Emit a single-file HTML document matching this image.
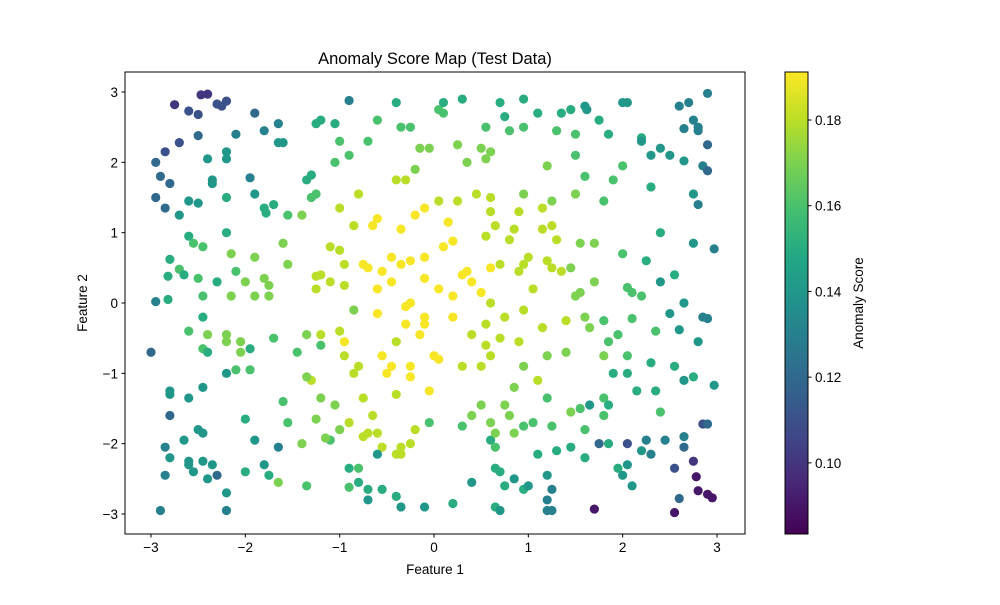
<!DOCTYPE html>
<html><head><meta charset="utf-8"><style>
body{margin:0;background:#fff;}
svg text{font-family:"Liberation Sans","DejaVu Sans",sans-serif;fill:#000;}
</style></head><body>
<svg id="chart" width="1000" height="600" xmlns="http://www.w3.org/2000/svg">
<rect width="1000" height="600" fill="#fff"/>
<text x="435" y="64" font-size="16.5" text-anchor="middle">Anomaly Score Map (Test Data)</text>
<g id="points"></g>
<rect x="125" y="72" width="620" height="462" fill="none" stroke="#000" stroke-width="1"/>
<g id="xticks"></g>
<g id="yticks"></g>
<text x="435" y="574" font-size="13.5" text-anchor="middle">Feature 1</text>
<text x="87" y="303" font-size="13.5" text-anchor="middle" transform="rotate(-90 87 303)">Feature 2</text>
<defs><linearGradient id="vir" x1="0" y1="1" x2="0" y2="0"></linearGradient></defs>
<rect x="785" y="72" width="23" height="462" fill="url(#vir)" stroke="#000" stroke-width="1"/>
<g id="cticks"></g>
<text x="863" y="303" font-size="13.5" text-anchor="middle" transform="rotate(-90 863 303)">Anomaly Score</text>
</svg>
<script>
const xTicks=[-3,-2,-1,0,1,2,3];
const yTicks=[-3,-2,-1,0,1,2,3];
const cTicks=[0.10,0.12,0.14,0.16,0.18];
const vMin=0.0834, vMax=0.1912;
const featX=[-2.47,-2.4,-2.75,-2.2,-2.3,-2.25,-2.6,-2.5,-1.9,-2.5,-2.1,-2.7,-2.85,-2.95,-2.9,-2.8,-2.95,-2.85,-2.4,-2.2,-2.2,-2.35,-2.35,-1.95,-1.8,-1.65,-1.65,-1.6,-1.9,-1.8,-1.78,-1.7,-2.6,-2.5,-2.7,-2.2,-2.2,-2.6,-2.45,-2.55,-2.8,-2.82,-2.7,-2.65,-2.82,-2.95,-3.0,-2.45,-2.15,-2.15,-1.9,-1.9,-1.8,-1.75,-1.75,-1.55,-1.6,-1.55,-1.4,-1.3,-1.25,-1.35,-1.3,-1.2,-1.25,-1.05,-0.9,-1.0,-1.05,-0.9,-0.7,-0.6,-0.4,-0.35,-0.25,-0.15,-0.05,-0.2,-0.4,-0.3,0.05,0.1,0.1,0.3,0.25,0.35,0.5,0.55,0.6,0.7,0.75,0.55,0.95,0.95,1.1,0.8,1.3,1.35,1.45,1.5,1.6,1.62,1.75,1.85,2.0,2.05,2.2,2.4,2.6,2.7,2.75,2.8,2.8,2.65,2.9,2.9,2.65,2.85,2.9,2.8,2.75,2.5,2.3,2.2,2.3,2.0,1.9,1.8,1.5,1.6,1.5,1.2,1.15,1.25,0.95,0.9,0.85,1.15,1.25,1.3,1.0,1.2,1.25,1.35,1.55,1.7,2.0,2.4,2.25,2.55,2.4,2.75,2.97,2.65,2.5,2.85,2.9,2.6,2.1,2.05,2.2,2.1,1.8,1.95,1.85,1.6,1.5,1.55,1.7,1.45,1.05,0.8,0.65,0.55,0.45,0.6,0.6,0.25,0.05,-0.1,-0.2,-0.35,-0.6,-0.65,-0.8,-1.0,-0.85,-1.1,-1.0,-0.95,-1.1,-1.2,-1.25,-1.25,-0.95,-0.75,-0.7,-0.55,-0.45,-0.35,-0.25,-0.1,0.1,0.15,0.2,0.3,0.35,0.4,0.05,-0.1,-0.45,-0.6,-0.6,-0.3,-0.25,-0.1,-0.3,0.0,0.05,0.2,0.2,0.5,0.6,0.55,0.4,0.55,0.7,0.6,0.3,0.9,1.15,1.2,1.4,0.95,1.1,0.85,0.75,0.5,0.4,0.6,0.8,0.85,0.95,1.05,1.25,1.2,1.45,1.55,1.6,1.8,1.85,1.9,2.05,2.05,2.3,2.15,2.35,2.75,2.65,2.8,2.97,1.75,1.85,1.6,1.95,2.05,2.0,2.1,2.05,2.2,2.3,2.25,2.45,2.65,2.65,2.55,2.75,2.85,2.9,2.6,2.55,2.78,2.8,2.9,2.95,1.7,1.25,1.2,1.2,1.25,1.2,0.95,1.0,0.85,0.7,0.65,0.75,0.65,0.7,0.4,0.2,0.6,0.65,0.3,0.65,-0.05,-0.2,-0.25,-0.35,-0.4,-0.35,-0.55,-0.6,-0.7,-0.75,-0.65,-0.9,-0.75,-0.4,-0.05,-0.5,-0.25,-0.45,-0.25,-0.55,-0.95,-0.95,-0.8,-0.85,-1.0,-1.2,-1.3,-1.35,-1.2,-1.05,-1.0,-1.25,-1.1,-1.15,-1.4,-1.55,-1.35,-0.9,-0.8,-0.9,-0.8,-0.7,-0.55,-0.4,-0.35,-0.1,-0.7,-0.6,-1.65,-1.65,-1.75,-1.8,-1.9,-2.0,-2.0,-2.2,-2.2,-2.3,-2.35,-2.4,-2.45,-2.6,-2.6,-2.55,-2.65,-2.45,-2.5,-2.8,-2.85,-2.85,-2.9,-2.8,-2.8,-2.8,-2.6,-2.45,-2.2,-2.1,-1.95,-1.95,-1.7,-1.6,-1.45,-1.2,-1.35,-2.05,-2.05,-2.2,-2.2,-2.4,-2.45,-2.4,-2.45,-2.6,-2.3,-2.5,-2.1,-2.0,-0.85,-0.4,-0.15,-0.1,0.6,0.7,0.9,0.95,0.95,0.75,0.5,1.4,1.65,1.8,2.35,2.55,1.65,1.8,1.45,1.3,1.1,2.4];
const featY=[2.96,2.97,2.82,2.87,2.83,2.8,2.73,2.68,2.7,2.38,2.4,2.28,2.15,2.0,1.8,1.7,1.5,1.35,2.05,2.15,2.05,1.75,1.7,1.78,2.45,2.55,2.28,2.28,1.55,1.35,1.28,1.4,1.45,1.42,1.25,1.5,1.0,0.95,0.8,0.85,0.62,0.38,0.48,0.4,0.05,0.02,-0.7,0.1,0.7,0.1,0.65,0.1,0.35,0.25,0.1,0.55,0.85,1.25,1.25,1.5,1.55,1.75,1.82,2.6,2.55,2.55,2.88,2.3,2.0,2.1,2.3,2.6,2.85,2.5,2.5,2.2,2.2,1.9,1.75,1.75,2.75,2.85,2.7,2.9,2.25,2.0,2.2,2.05,2.15,2.85,2.65,2.5,2.9,2.5,2.7,2.45,2.45,2.7,2.75,2.4,2.8,2.75,2.6,2.4,2.85,2.85,2.35,2.2,2.8,2.85,2.6,2.5,2.45,2.48,2.98,2.25,2.02,1.95,1.88,1.4,1.55,2.1,2.1,2.3,1.65,1.95,1.75,1.45,1.55,1.8,2.1,1.95,1.35,1.45,1.55,1.3,1.05,1.05,1.1,0.9,0.65,0.6,0.5,0.45,0.85,0.85,0.7,1.0,0.6,0.4,0.3,0.85,0.77,0.0,-0.15,-0.2,-0.22,-0.38,0.15,0.22,0.1,-0.22,-0.25,-0.45,-0.55,-0.2,0.1,0.15,0.3,0.5,0.2,0.9,1.1,0.95,1.55,1.3,1.5,1.45,1.45,1.35,1.25,1.05,1.2,1.1,1.55,1.35,1.1,0.8,0.75,0.55,0.3,0.4,0.38,0.2,0.25,0.55,0.5,0.45,0.65,0.55,0.6,0.65,0.8,1.15,0.88,0.4,0.45,0.3,0.2,0.35,0.3,0.2,-0.15,-0.05,0.0,-0.2,-0.3,-0.75,-0.8,-0.2,0.1,0.15,0.0,-0.3,-0.45,-0.6,-0.5,-0.75,-0.9,-0.55,-0.35,-0.75,-0.7,-0.9,-1.1,-1.2,-1.45,-1.45,-1.6,-1.7,-1.6,-1.85,-1.75,-1.7,-1.75,-1.35,-1.55,-1.5,-1.8,-1.35,-1.45,-1.0,-0.75,-1.0,-0.85,-1.25,-1.25,-1.05,-1.1,-0.55,-1.17,-2.0,-2.0,-2.2,-2.35,-2.3,-2.45,-2.6,-2.0,-2.1,-2.15,-1.95,-1.95,-1.9,-2.05,-2.35,-2.25,-1.72,-1.72,-2.78,-2.98,-2.47,-2.67,-2.72,-2.77,-2.93,-2.95,-2.95,-2.8,-2.65,-2.45,-2.65,-2.6,-2.5,-2.4,-2.35,-2.6,-2.9,-2.95,-2.55,-2.85,-1.95,-2.05,-1.75,-1.85,-1.7,-1.8,-2.0,-2.05,-2.15,-2.15,-2.05,-1.85,-1.85,-1.9,-1.6,-1.7,-1.35,-1.3,-1.25,-1.0,-1.05,-0.9,-0.9,-0.75,-0.55,-0.75,-0.9,-1.0,-0.4,-0.45,-1.1,-1.05,-1.35,-1.45,-1.8,-1.65,-1.95,-1.92,-2.0,-1.7,-2.6,-2.35,-2.35,-2.62,-2.55,-2.65,-2.65,-2.75,-2.9,-2.9,-2.8,-2.15,-2.55,-2.05,-2.45,-2.3,-1.95,-1.65,-2.4,-2.7,-2.95,-2.45,-2.3,-2.5,-2.25,-2.3,-2.25,-2.4,-1.95,-1.85,-1.8,-2.2,-2.05,-2.45,-2.95,-1.6,-1.25,-1.3,-1.35,-1.2,-1.0,-0.95,-0.95,-0.65,-0.5,-1.4,-0.7,-0.6,-0.45,-0.55,-0.7,-0.45,-0.55,-0.45,-0.65,-0.7,-0.2,-0.4,0.3,0.35,0.45,0.3,-0.1,-0.55,-0.45,-0.3,0.5,0.55,0.45,0.55,-0.1,-0.2,-0.9,-0.25,-0.35,-0.75,-0.4,-0.9,-1.45,-1.6,-2.05,-2.1,-2.15,-1.55];
const scores=[0.10,0.10,0.10,0.11,0.11,0.11,0.11,0.11,0.12,0.12,0.13,0.11,0.11,0.12,0.12,0.12,0.12,0.12,0.14,0.14,0.14,0.14,0.14,0.13,0.13,0.13,0.14,0.14,0.14,0.15,0.15,0.15,0.14,0.14,0.14,0.15,0.15,0.15,0.16,0.16,0.15,0.15,0.16,0.15,0.15,0.13,0.12,0.16,0.17,0.17,0.17,0.17,0.17,0.17,0.17,0.17,0.17,0.16,0.17,0.16,0.16,0.15,0.15,0.15,0.15,0.15,0.13,0.16,0.16,0.16,0.16,0.16,0.15,0.16,0.16,0.17,0.17,0.17,0.18,0.18,0.16,0.15,0.16,0.15,0.17,0.17,0.17,0.17,0.17,0.15,0.15,0.16,0.15,0.16,0.15,0.16,0.16,0.15,0.15,0.16,0.14,0.14,0.15,0.15,0.14,0.14,0.15,0.14,0.13,0.13,0.13,0.13,0.13,0.13,0.13,0.12,0.14,0.13,0.12,0.13,0.14,0.14,0.14,0.14,0.15,0.16,0.16,0.16,0.17,0.16,0.16,0.17,0.18,0.17,0.17,0.18,0.18,0.18,0.18,0.18,0.18,0.18,0.18,0.18,0.17,0.17,0.16,0.15,0.15,0.15,0.14,0.14,0.13,0.14,0.14,0.13,0.13,0.14,0.16,0.16,0.16,0.16,0.16,0.16,0.16,0.17,0.17,0.17,0.17,0.17,0.18,0.18,0.18,0.18,0.18,0.18,0.18,0.18,0.18,0.19,0.19,0.19,0.19,0.19,0.18,0.18,0.18,0.18,0.18,0.18,0.18,0.18,0.18,0.18,0.18,0.19,0.19,0.19,0.19,0.19,0.19,0.19,0.19,0.19,0.19,0.19,0.19,0.19,0.19,0.19,0.19,0.19,0.19,0.19,0.19,0.19,0.19,0.19,0.19,0.19,0.19,0.19,0.18,0.18,0.18,0.18,0.18,0.18,0.18,0.18,0.18,0.17,0.17,0.17,0.18,0.17,0.17,0.17,0.17,0.17,0.17,0.17,0.16,0.16,0.16,0.16,0.17,0.16,0.16,0.16,0.15,0.15,0.16,0.15,0.15,0.15,0.15,0.15,0.14,0.14,0.14,0.12,0.15,0.15,0.15,0.14,0.14,0.14,0.11,0.14,0.13,0.13,0.13,0.13,0.12,0.11,0.10,0.11,0.12,0.12,0.09,0.09,0.09,0.09,0.09,0.09,0.13,0.13,0.13,0.13,0.14,0.15,0.14,0.14,0.15,0.15,0.15,0.15,0.14,0.14,0.15,0.15,0.16,0.16,0.17,0.16,0.18,0.18,0.18,0.18,0.18,0.18,0.18,0.18,0.18,0.18,0.18,0.18,0.18,0.19,0.19,0.19,0.19,0.19,0.19,0.19,0.18,0.18,0.18,0.18,0.18,0.18,0.17,0.17,0.17,0.17,0.17,0.16,0.17,0.17,0.16,0.16,0.15,0.16,0.16,0.15,0.15,0.15,0.15,0.14,0.14,0.14,0.14,0.17,0.13,0.15,0.14,0.14,0.15,0.15,0.14,0.13,0.12,0.14,0.14,0.14,0.14,0.14,0.14,0.14,0.14,0.14,0.14,0.13,0.13,0.13,0.12,0.14,0.14,0.14,0.14,0.14,0.16,0.16,0.15,0.16,0.16,0.16,0.16,0.17,0.17,0.17,0.17,0.17,0.17,0.16,0.15,0.15,0.16,0.15,0.16,0.16,0.17,0.17,0.18,0.19,0.19,0.19,0.18,0.18,0.18,0.18,0.18,0.18,0.18,0.17,0.17,0.16,0.15,0.14,0.16,0.15,0.15,0.15,0.16,0.14];

const NS="http://www.w3.org/2000/svg";
const X0=125,X1=745,Y0=72,Y1=534;
function xScale(v){return 434+v*94.33;}
function yScale(v){return 303-v*70.33;}
function cScale(v){return Y1-(v-vMin)/(vMax-vMin)*(Y1-Y0);}
const vir=["#440154","#482475","#414487","#355f8d","#2a788e","#21918c","#22a884","#44bf70","#7ad151","#bddf26","#fde725"];
function hex(h){return [1,3,5].map(i=>parseInt(h.substr(i,2),16));}
function viridis(t){t=Math.max(0,Math.min(1,t));const f=t*10,i=Math.min(9,Math.floor(f)),r=f-i;const a=hex(vir[i]),b=hex(vir[i+1]);return "rgb("+a.map((c,k)=>Math.round(c+(b[k]-c)*r)).join(",")+")";}
function mk(tag,attrs,parent){const e=document.createElementNS(NS,tag);for(const k in attrs)e.setAttribute(k,attrs[k]);parent.appendChild(e);return e;}

const grad=document.getElementById('vir');
vir.forEach((c,i)=>mk('stop',{offset:(i*10)+'%','stop-color':c},grad));

const pg=document.getElementById('points');
for(let i=0;i<featX.length;i++){
  const c=mk('circle',{cx:xScale(featX[i]),cy:yScale(featY[i]),r:4.6,fill:viridis((scores[i]-vMin)/(vMax-vMin))},pg);
  
  
}
const xg=document.getElementById('xticks');
xTicks.forEach(v=>{const x=xScale(v);
  const l=mk('line',{x1:x,x2:x,y1:Y1,y2:Y1+3.5,stroke:'#000'},xg);
  
  
  const t=mk('text',{x:x,y:Y1+18,'font-size':13.5,'text-anchor':'middle'},xg);t.textContent=(v<0?'\u2212'+(-v):v);
  
  });
const yg=document.getElementById('yticks');
yTicks.forEach(v=>{const y=yScale(v);
  const l=mk('line',{x1:X0-3.5,x2:X0,y1:y,y2:y,stroke:'#000'},yg);
  
  
  const t=mk('text',{x:X0-7,y:y+5,'font-size':13.5,'text-anchor':'end'},yg);t.textContent=(v<0?'\u2212'+(-v):v);
  
  });
const cg=document.getElementById('cticks');
cTicks.forEach(v=>{const y=cScale(v);
  const l=mk('line',{x1:808,x2:811.5,y1:y,y2:y,stroke:'#000'},cg);
  
  
  const t=mk('text',{x:815,y:y+5,'font-size':13.5},cg);t.textContent=v.toFixed(2);
  
  });
</script>
</body></html>
